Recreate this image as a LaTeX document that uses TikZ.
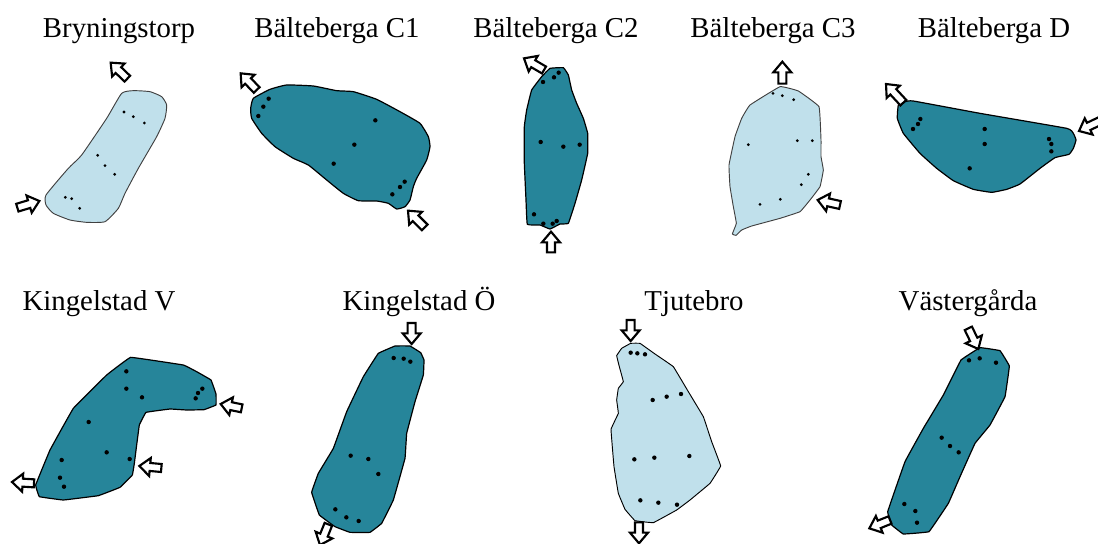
\documentclass[tikz,border=0pt]{standalone}
\usepackage{fontspec}
\setmainfont{Liberation Serif}
\definecolor{darkblob}{HTML}{26859A}
\definecolor{lightblob}{HTML}{C0E0EB}
\tikzset{
  title/.style={anchor=base,font=\fontsize{21.6pt}{24pt}\selectfont,inner sep=0pt},
  darkshape/.style={draw=black,fill=darkblob,line width=.9pt,line join=round},
  lightshape/.style={draw=black!75,fill=lightblob,line width=.7pt,line join=round},
  arrowmark/.style={draw=black,fill=white,line width=1.6pt,line join=miter}
}
% block arrow: tip x,y then tail x,y
\newcommand\arrowmk[4]{%
  \pgfmathsetmacro\dxx{#3-(#1)}\pgfmathsetmacro\dyy{#4-(#2)}%
  \pgfmathsetmacro\LLL{veclen(\dxx,\dyy)}%
  \pgfmathsetmacro\uxx{\dxx/\LLL}\pgfmathsetmacro\uyy{\dyy/\LLL}%
  \def\arp##1##2{({#1+(##1)*\uxx-(##2)*\uyy},{#2+(##1)*\uyy+(##2)*\uxx})}%
  \draw[arrowmark] \arp{0}{0} -- \arp{32}{27} -- \arp{32}{12} -- \arp{\LLL}{12} -- \arp{\LLL}{-12} -- \arp{32}{-12} -- \arp{32}{-27} -- cycle;
}
\newcommand\bigdots[1]{\foreach \p in {#1} \fill[black] \p circle (6.6);}
\newcommand\smalldots[1]{\foreach \p in {#1} \fill[black] \p circle (4.6);}
\begin{document}
\begin{tikzpicture}[x=.75pt,y=-.75pt]
\useasboundingbox (0,0) rectangle (1098,543);
\clip (0,0) rectangle (1098,543);
\fill[white] (0,0) rectangle (1098,543);
\node[title] (t1) at (119,37.5) {Bryningstorp};
\node[title] (t2) at (337,37.5) {Bälteberga C1};
\node[title] (t3) at (556,37.5) {Bälteberga C2};
\node[title] (t4) at (773,37.5) {Bälteberga C3};
\node[title] (t5) at (994,37.5) {Bälteberga D};
\node[title] (t6) at (99,310.5) {Kingelstad V};
\node[title] (t7) at (419,310.5) {Kingelstad Ö};
\node[title] (t8) at (694,310.5) {Tjutebro};
\node[title] (t9) at (968,310.5) {Västergårda};

\begin{scope}[shift={(0,40)},x=.25pt,y=-.25pt]
\draw[lightshape] plot[smooth cycle,tension=.3] coordinates {(365,160)(400,152)(450,155)(485,170)(500,195)(495,235)(470,290)(415,385)(375,460)(355,505)(315,545)(260,547)(210,540)(160,520)(138,495)(138,465)(205,385)(245,345)(320,235)};
\smalldots{(372,216),(400,230),(433,249),(293,346),(315,377),(344,403),(196,472),(215,476),(239,505)}
\arrowmk{332}{68}{382}{116}
\arrowmk{118}{483}{52}{503}
\draw[darkshape] plot[smooth cycle,tension=.25] coordinates {(760,175)(810,148)(860,135)(940,138)(1010,152)(1060,155)(1130,178)(1200,215)(1260,250)(1285,290)(1290,320)(1280,360)(1250,415)(1240,440)(1230,480)(1215,500)(1190,507)(1165,490)(1130,483)(1075,482)(1030,460)(980,420)(925,375)(880,355)(825,320)(785,280)(755,235)(752,205)};
\bigdots{(806,176),(790,200),(775,228),(1126,241),(1063,314),(1001,371),(1214,425),(1200,441),(1177,463)}
\arrowmk{722}{100}{770}{150}
\arrowmk{1224}{512}{1274}{562}
\end{scope}

\begin{scope}[shift={(440,40)},x=.25pt,y=-.25pt]
\draw[darkshape] plot[smooth cycle,tension=.15] coordinates {(305,110)(330,85)(370,83)(385,105)(395,150)(410,190)(430,235)(443,280)(443,340)(425,420)(405,490)(385,550)(360,552)(330,567)(300,555)(262,553)(258,480)(253,370)(253,260)(260,210)(275,150)};
\bigdots{(309,126),(342,112),(356,98),(302,306),(370,320),(419,314),(282,523),(310,551),(338,551),(350,543)}
\arrowmk{252}{55}{312}{90}
\arrowmk{333}{575}{333}{637}
\draw[lightshape] plot[smooth cycle,tension=.15] coordinates {(930,195)(1020,140)(1075,153)(1137,200)(1143,300)(1143,350)(1150,390)(1140,440)(1110,480)(1080,515)(1020,535)(935,558)(905,570)(888,586)(877,582)(889,550)(880,500)(870,440)(867,375)(885,290)(905,235)};
\smalldots{(999,160),(1027,167),(1061,179),(925,314),(1072,302),(1117,302),(1105,403),(1084,434),(960,493),(1021,478)}
\arrowmk{1027}{65}{1027}{131}
\arrowmk{1133}{480}{1200}{495}
\end{scope}

\begin{scope}[shift={(870,60)},x=.25pt,y=-.25pt]
\draw[darkshape] plot[smooth cycle,tension=.2] coordinates {(85,135)(105,125)(130,123)(330,160)(590,205)(610,220)(618,240)(610,265)(597,283)(555,293)(510,325)(450,372)(410,388)(365,397)(310,388)(250,362)(200,325)(150,280)(100,220)(82,175)};
\bigdots{(151,177),(144,192),(129,207),(344,207),(344,252),(299,325),(537,237),(544,252),(544,274)}
\arrowmk{48}{72}{100}{128}
\arrowmk{627}{213}{690}{183}
\end{scope}

\begin{scope}[shift={(0,330)},x=.25pt,y=-.25pt]
\draw[darkshape] plot[smooth cycle,tension=.08] coordinates {(392,82)(550,105)(590,125)(633,150)(648,192)(648,225)(612,239)(560,240)(510,237)(438,247)(418,285)(410,345)(403,400)(397,435)(360,472)(295,497)(190,510)(118,500)(107,465)(150,360)(220,235)(320,135)};
\bigdots{(379,124),(379,176),(426,202),(607,176),(594,189),(587,205),(266,276),(320,367),(389,387),(185,390),(180,443),(192,470)}
\arrowmk{662}{222}{725}{235}
\arrowmk{418}{408}{484}{414}
\arrowmk{36}{456}{102}{460}
\draw[darkshape] plot[smooth cycle,tension=.08] coordinates {(1135,70)(1185,48)(1230,48)(1262,68)(1272,90)(1270,135)(1245,215)(1220,310)(1215,385)(1180,510)(1145,580)(1110,607)(1050,607)(1005,590)(958,555)(935,487)(955,430)(1000,355)(1040,245)(1090,140)};
\bigdots{(1181,84),(1211,86),(1231,95),(1052,377),(1105,387),(1135,432),(1006,538),(1039,562),(1076,573)}
\arrowmk{1235}{42}{1235}{-21}
\arrowmk{960}{645}{985}{583}
\end{scope}

\begin{scope}[shift={(590,330)},x=.25pt,y=-.25pt]
\draw[lightshape,draw=black] plot[smooth cycle,tension=.08] coordinates {(80,77)(95,55)(122,40)(150,40)(195,72)(250,110)(295,185)(340,260)(365,335)(392,408)(360,460)(300,510)(260,540)(190,578)(135,572)(105,538)(85,490)(72,410)(63,298)(85,250)(80,210)(85,175)(100,155)(88,110)};
\bigdots{(122,68),(142,70),(165,73),(188,210),(230,200),(273,192),(133,388),(193,383),(298,378),(151,511),(205,518),(261,524)}
\arrowmk{122}{33}{122}{-30}
\arrowmk{147}{640}{147}{577}
\draw[darkshape] plot[smooth cycle,tension=.08] coordinates {(1113,90)(1170,53)(1230,62)(1258,108)(1245,200)(1200,285)(1155,340)(1110,440)(1075,520)(1017,605)(940,612)(905,585)(893,545)(945,395)(1000,295)(1060,195)};
\bigdots{(1137,91),(1169,85),(1218,98),(1055,323),(1080,348),(1106,367),(943,522),(976,543),(981,578)}
\arrowmk{1165}{57}{1135}{-5}
\arrowmk{838}{595}{900}{570}
\end{scope}
\end{tikzpicture}
\end{document}
